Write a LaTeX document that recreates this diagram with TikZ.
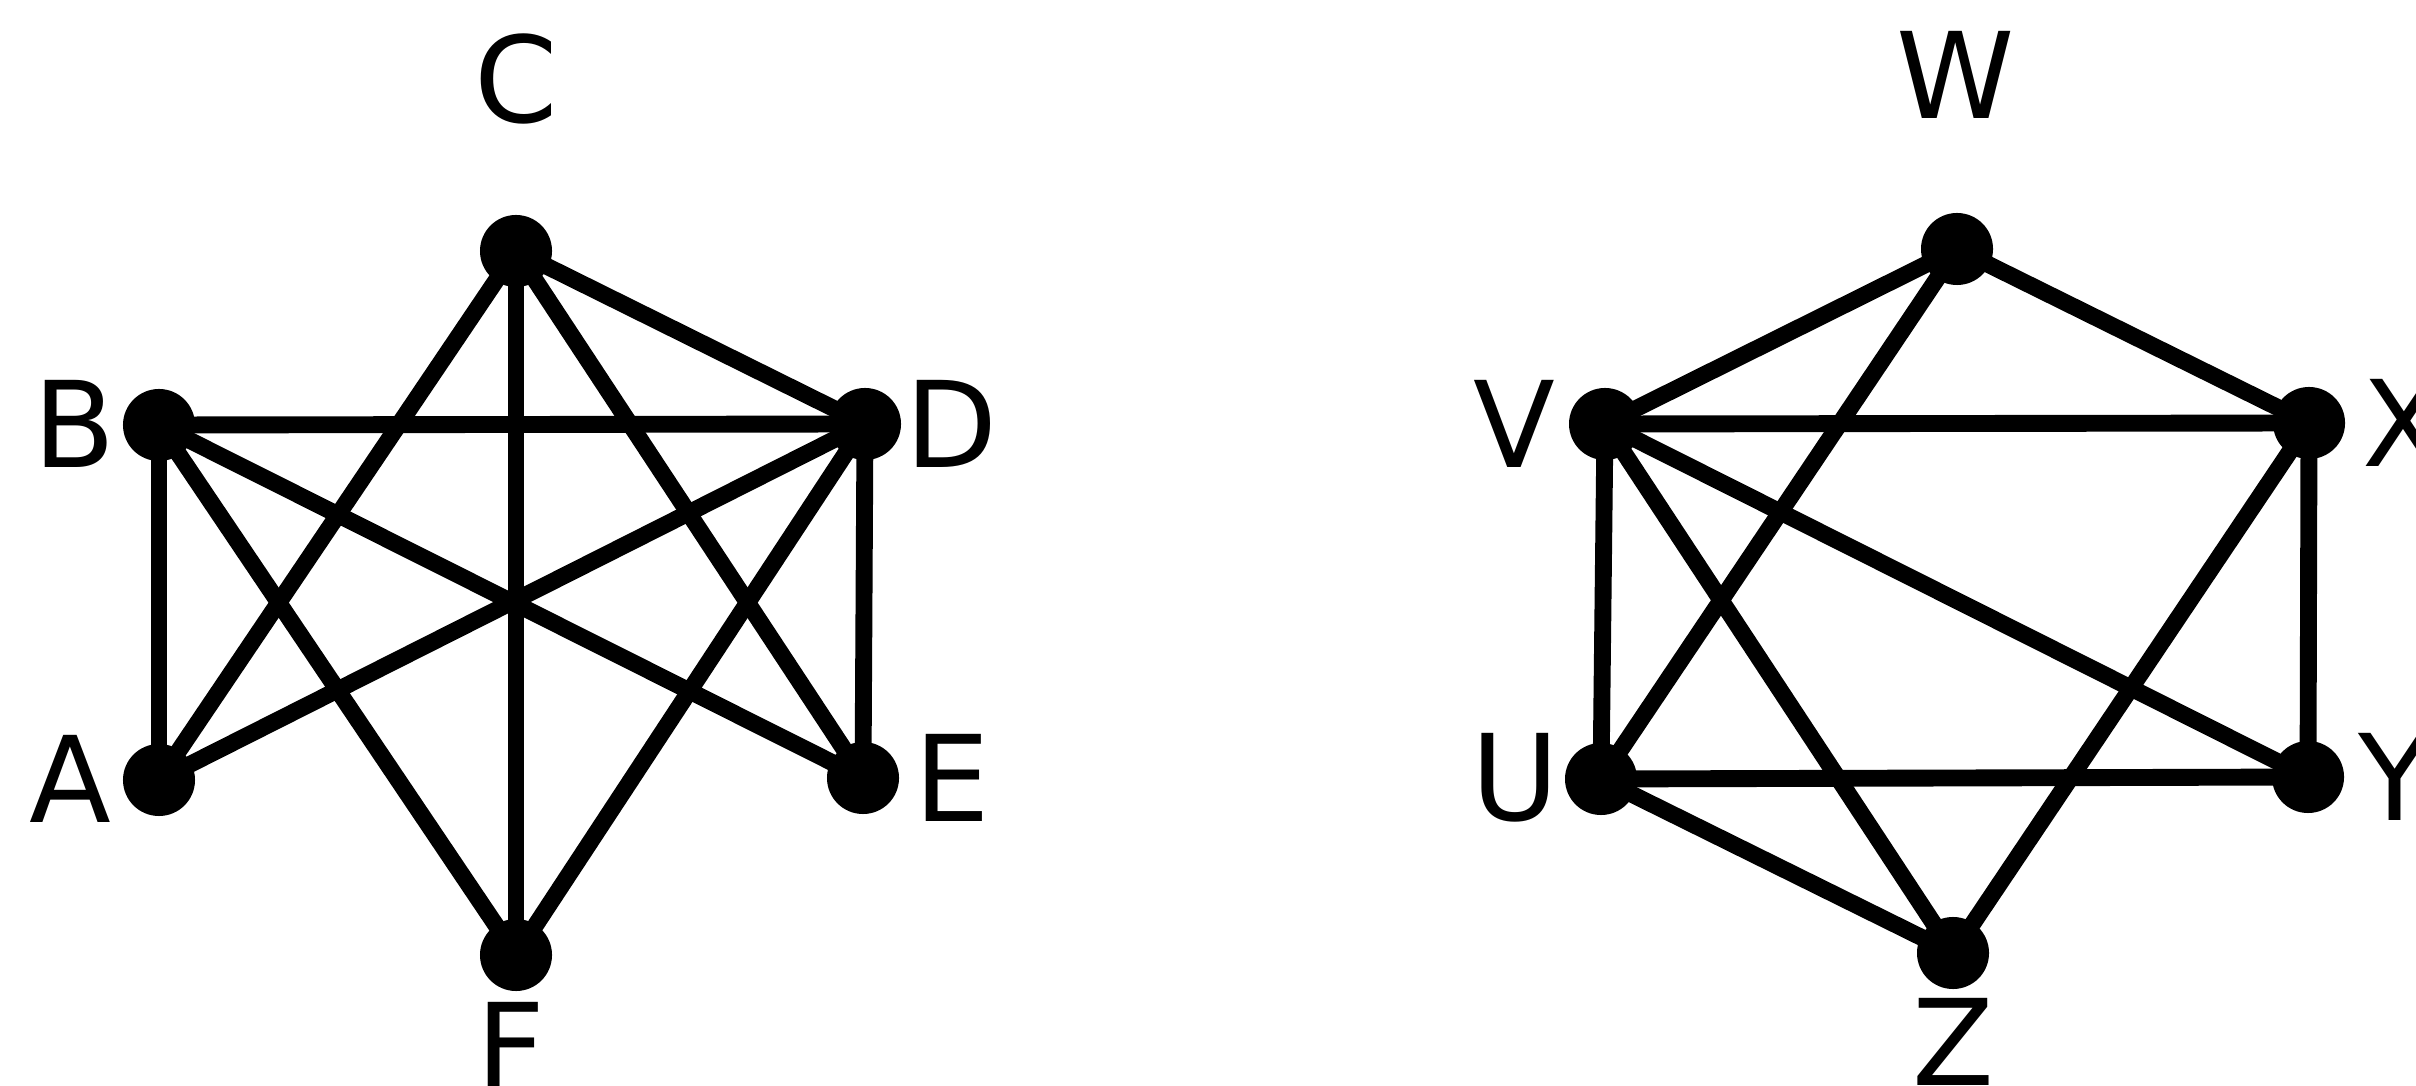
\documentclass[tikz,border=0pt]{standalone}
\usepackage{fontspec}
\setmainfont{DejaVu Sans}
\begin{document}
\begin{tikzpicture}[x=0.01cm,y=-0.01cm,
  dot/.style={circle,fill=black,inner sep=0pt,minimum size=0.72cm},
  lbl/.style={inner sep=0pt,font=\fontsize{34}{40}\selectfont},
  edge/.style={line width=4.8pt}]
\useasboundingbox (0,0) rectangle (2416,1086);
% left graph
\node[dot] (C) at (516,251) {};
\node[dot] (B) at (159,425) {};
\node[dot] (D) at (865,424) {};
\node[dot] (A) at (159,780) {};
\node[dot] (E) at (863,778) {};
\node[dot] (F) at (516,955) {};
\node[lbl] (lC) at (516,79) {C};
\node[lbl] (lB) at (75,424) {B};
\node[lbl] (lD) at (952,424) {D};
\node[lbl] (lA) at (70,779) {A};
\node[lbl] (lE) at (952,778) {E};
\node[lbl,anchor=north] (lF) at (511,1002) {F};
\foreach \a/\b in {C/D,C/A,C/F,C/E,B/D,B/A,B/F,B/E,D/A,D/E,D/F}
  \draw[edge] (\a.center) -- (\b.center);
% right graph
\node[dot] (W) at (1957,249) {};
\node[dot] (V) at (1605,424) {};
\node[dot] (X) at (2309,423) {};
\node[dot] (U) at (1601,779) {};
\node[dot] (Y) at (2308,777) {};
\node[dot] (Z) at (1953,953) {};
\node[lbl] (lW) at (1956,75) {W};
\node[lbl] (lV) at (1514,424) {V};
\node[lbl,anchor=west] (lX) at (2362,423) {X};
\node[lbl] (lU) at (1515,778) {U};
\node[lbl,anchor=west] (lY) at (2358,777) {Y};
\node[lbl,anchor=north] (lZ) at (1953,998) {Z};
\foreach \a/\b in {W/V,W/X,W/U,V/X,V/U,V/Z,V/Y,X/Y,X/Z,U/Y,U/Z}
  \draw[edge] (\a.center) -- (\b.center);
\end{tikzpicture}
\end{document}
